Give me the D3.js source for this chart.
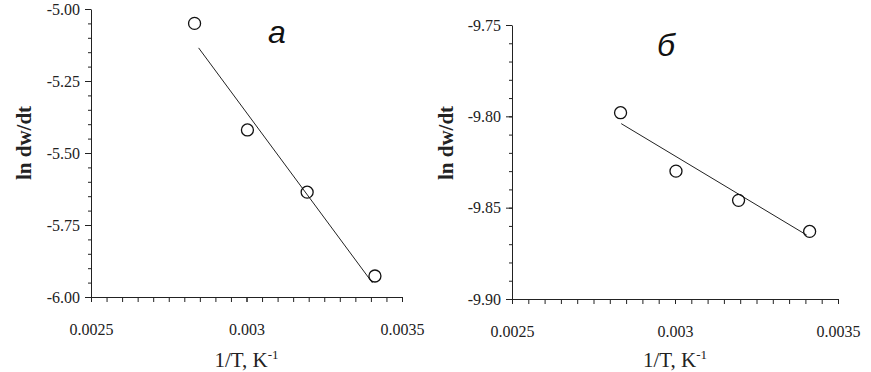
<!DOCTYPE html>
<html>
<head>
<meta charset="utf-8">
<script src="https://cdn.jsdelivr.net/npm/d3@7"></script>
<style>
  body { margin: 0; background: #fff; }
  svg { display: block; }
</style>
</head>
<body>
<svg width="871" height="372" font-family="Liberation Serif, DejaVu Serif, serif"></svg>
<script>
// inverse temperature, 1/K (points at 353, 333, 313, 293 K)
var invT = [0.002833, 0.003003, 0.003195, 0.003413];
// panel a
var lnRateA = [-5.050, -5.420, -5.636, -5.927];
var fitA = [[0.002846, -5.135], [0.003405, -5.951]];
// panel б
var lnRateB = [-9.798, -9.830, -9.846, -9.863];
var fitB = [[0.002835, -9.804], [0.003404, -9.865]];

var xTicks = [0.0025, 0.003, 0.0035];
var xTickLabels = ["0.0025", "0.003", "0.0035"];
var yTicksA = [-5.00, -5.25, -5.50, -5.75, -6.00];
var yTickLabelsA = ["-5.00", "-5.25", "-5.50", "-5.75", "-6.00"];
var yTicksB = [-9.75, -9.80, -9.85, -9.90];
var yTickLabelsB = ["-9.75", "-9.80", "-9.85", "-9.90"];

var serif = "Liberation Serif, DejaVu Serif, serif";
var svg = d3.select("svg");

function styleAxis(sel) {
	sel.attr("font-family", serif).attr("font-size", 16);
	sel.selectAll(".domain, .tick line").attr("stroke", "#222");
	sel.selectAll("text").attr("fill", "#222");
}

function panel(opt) {
	var x = d3.scaleLinear().domain([0.0025, 0.0035]).range([opt.left, opt.right]);
	var y = d3.scaleLinear().domain(opt.yDomain).range([opt.bottom, opt.top]);
	var g = svg.append("g");

	// minor ticks
	g.append("g")
	.attr("transform", "translate(0," + opt.bottom + ")")
	.call(d3.axisBottom(x).tickValues(d3.range(0, 21).map(function(i) { return 0.0025 + i * 0.00005; }))
		.tickSize(5).tickFormat(""))
	.call(styleAxis)
	.select(".domain").remove();
	g.append("g")
	.attr("transform", "translate(" + opt.left + ",0)")
	.call(d3.axisLeft(y).tickValues(d3.range(0, opt.minorCount + 1).map(function(i) { return opt.yDomain[0] + i * opt.minorStep; }))
		.tickSize(3).tickFormat(""))
	.call(styleAxis)
	.select(".domain").remove();

	// major ticks and labels
	g.append("g")
	.attr("transform", "translate(0," + opt.bottom + ")")
	.call(d3.axisBottom(x).tickValues(xTicks).tickSize(5).tickSizeOuter(0).tickPadding(22)
		.tickFormat(function(d, i) { return xTickLabels[i]; }))
	.call(styleAxis);
	g.append("g")
	.attr("transform", "translate(" + opt.left + ",0)")
	.call(d3.axisLeft(y).tickValues(opt.yTicks).tickSize(6).tickSizeOuter(0).tickPadding(5)
		.tickFormat(function(d, i) { return opt.yTickLabels[i]; }))
	.call(styleAxis);

	// fitted line
	g.append("path")
	.datum(opt.fit)
	.attr("fill", "none")
	.attr("stroke", "#222")
	.attr("stroke-width", 1)
	.attr("d", d3.line().x(function(d) { return x(d[0]); }).y(function(d) { return y(d[1]); }));

	// points
	g.selectAll("circle")
	.data(opt.values)
	.enter().append("circle")
	.attr("cx", function(d, i) { return x(invT[i]); })
	.attr("cy", function(d) { return y(d); })
	.attr("r", 6)
	.attr("fill", "none")
	.attr("stroke", "#111")
	.attr("stroke-width", 1.3);

	// axis titles
	var xt = g.append("text")
	.attr("x", (opt.left + opt.right) / 2)
	.attr("y", 367)
	.attr("text-anchor", "middle")
	.attr("font-family", serif)
	.attr("font-size", 21)
	.attr("fill", "#222");
	xt.append("tspan").text("1/T, K");
	xt.append("tspan").attr("dy", -8).attr("font-size", 13).text("-1");

	g.append("text")
	.attr("transform", "translate(" + opt.yTitleX + ",143) rotate(-90)")
	.attr("text-anchor", "middle")
	.attr("font-family", serif)
	.attr("font-weight", "bold")
	.attr("font-size", 21)
	.attr("fill", "#222")
	.text("ln dw/dt");

	g.append("text")
	.attr("x", opt.tagX)
	.attr("y", opt.tagY)
	.attr("text-anchor", "middle")
	.attr("font-family", "Liberation Sans, Arial, sans-serif")
	.attr("font-style", "italic")
	.attr("font-size", 32)
	.attr("fill", "#111")
	.text(opt.tag);
}

panel({left: 91, right: 402, top: 9, bottom: 297, yDomain: [-6.00, -5.00],
	minorStep: 0.05, minorCount: 20, yTicks: yTicksA, yTickLabels: yTickLabelsA,
	values: lnRateA, fit: fitA, yTitleX: 31, tag: "a", tagX: 277, tagY: 43});
panel({left: 512, right: 838, top: 25, bottom: 299, yDomain: [-9.90, -9.75],
	minorStep: 0.01, minorCount: 15, yTicks: yTicksB, yTickLabels: yTickLabelsB,
	values: lnRateB, fit: fitB, yTitleX: 453, tag: "б", tagX: 666, tagY: 56});
</script>
</body>
</html>
